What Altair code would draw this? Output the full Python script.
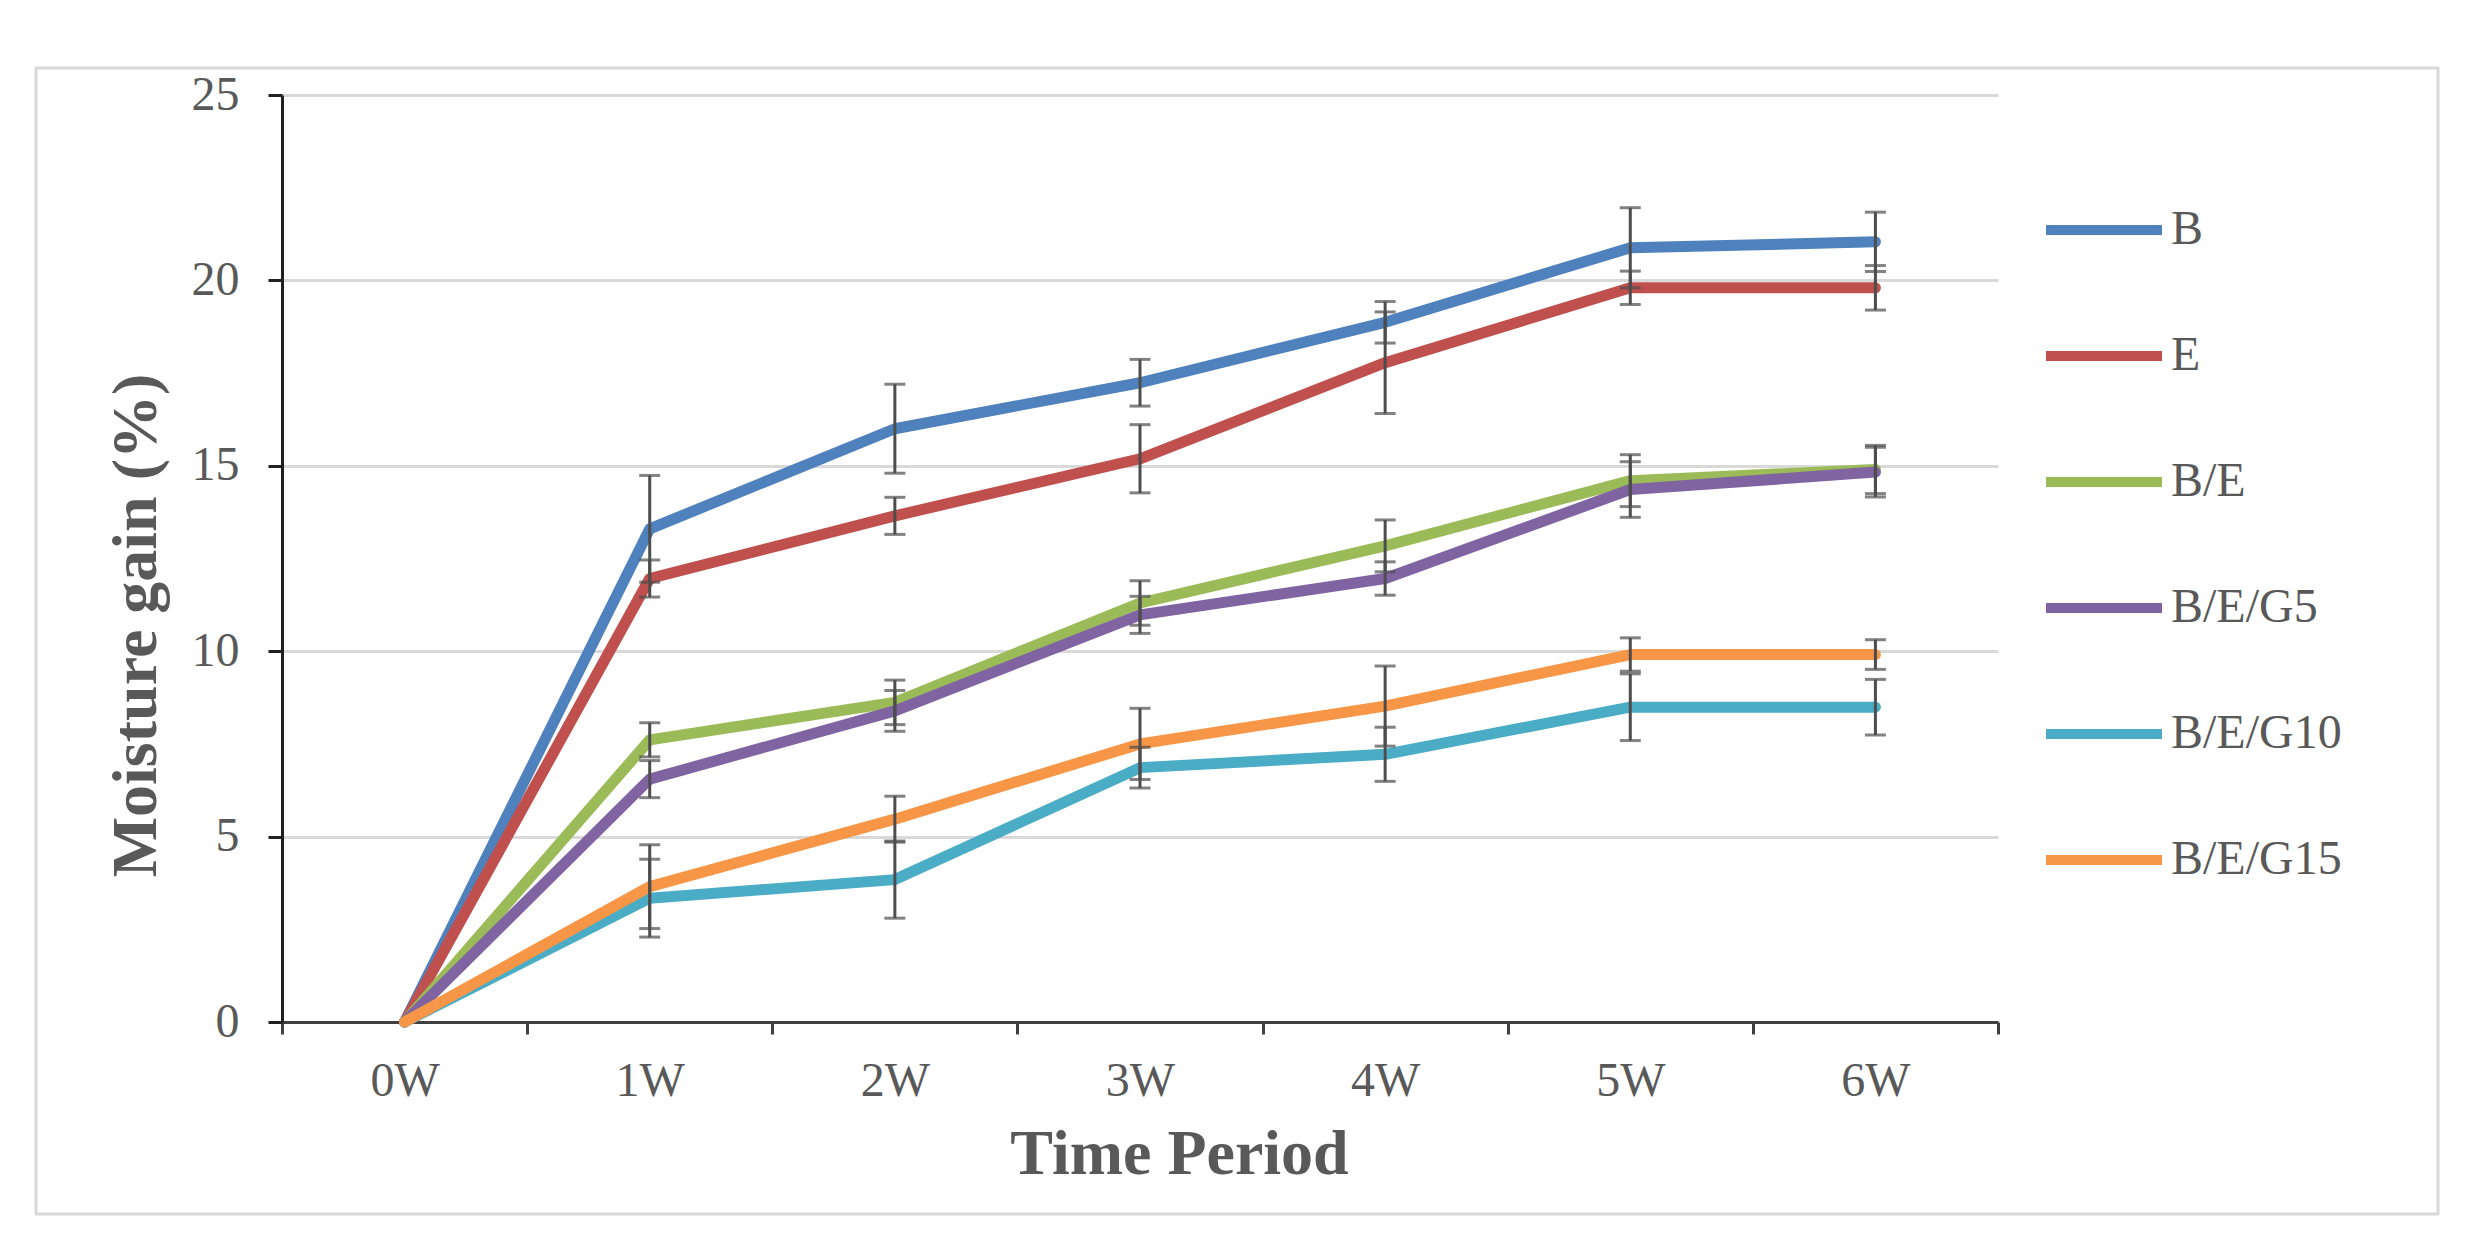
import altair as alt
import pandas as pd

weeks = ["0W", "1W", "2W", "3W", "4W", "5W", "6W"]
series = ["B", "E", "B/E", "B/E/G5", "B/E/G10", "B/E/G15"]
colors = ["#4F81BD", "#C0504D", "#9BBB59", "#8064A2", "#4BACC6", "#F79646"]

b_vals = [0, 13.3, 16.0, 17.24, 18.87, 20.88, 21.04]
e_vals = [0, 11.96, 13.65, 15.19, 17.78, 19.8, 19.8]
be_vals = [0, 7.61, 8.62, 11.3, 12.84, 14.6, 14.9]
g5_vals = [0, 6.55, 8.39, 10.98, 11.96, 14.36, 14.83]
g10_vals = [0, 3.34, 3.84, 6.86, 7.22, 8.49, 8.49]
g15_vals = [0, 3.65, 5.47, 7.5, 8.52, 9.91, 9.91]

b_err = [0, 1.44, 1.2, 0.63, 0.56, 1.08, 0.8]
e_err = [0, 0.5, 0.5, 0.92, 1.37, 0.45, 0.6]
be_err = [0, 0.46, 0.6, 0.6, 0.7, 0.7, 0.65]
g5_err = [0, 0.5, 0.55, 0.5, 0.45, 0.75, 0.67]
g10_err = [0, 1.05, 1.04, 0.55, 0.73, 0.9, 0.75]
g15_err = [0, 1.13, 0.62, 0.96, 1.08, 0.45, 0.4]

all_vals = [b_vals, e_vals, be_vals, g5_vals, g10_vals, g15_vals]
all_errs = [b_err, e_err, be_err, g5_err, g10_err, g15_err]

rows = []
for s, vals, errs in zip(series, all_vals, all_errs):
    for i, w in enumerate(weeks):
        rows.append({"series": s, "week": w, "pos": i + 0.5,
                     "value": vals[i], "err": errs[i],
                     "lo": vals[i] - errs[i], "hi": vals[i] + errs[i]})
df = pd.DataFrame(rows)

W, H = 1716, 927
FONT = "Liberation Serif"
TXT = "#595959"
Y_TITLE = "Moisture gain (%)"

label_arr = "[" + ",".join("'%s'" % w for w in weeks) + "]"
label_expr = "datum.value < %d ? %s[datum.value] : ''" % (len(weeks), label_arr)

x_enc = alt.X("pos:Q",
              scale=alt.Scale(domain=[0, len(weeks)], nice=False, zero=False),
              axis=alt.Axis(values=list(range(len(weeks) + 1)), labelExpr=label_expr,
                            labelOffset=W / len(weeks) / 2, labelFlush=False,
                            labelOverlap=False, grid=False,
                            tickSize=12, tickWidth=3, tickColor="#404040",
                            domainColor="#404040", domainWidth=3,
                            labelFont=FONT, labelFontSize=48, labelColor=TXT,
                            labelPadding=23,
                            title="Time Period", titleFont=FONT, titleFontSize=64,
                            titleFontWeight="bold", titleColor=TXT,
                            titleX=897, titleY=132, titleBaseline="middle",
                            titleAlign="center"))
y_axis = alt.Axis(values=[0, 5, 10, 15, 20, 25], grid=True, gridColor="#D9D9D9",
                  gridWidth=3, tickSize=14, tickWidth=3, tickColor="#202020",
                  domainColor="#202020", domainWidth=3, labelFlush=False,
                  labelFont=FONT, labelFontSize=48, labelColor=TXT, labelPadding=29,
                  title=Y_TITLE, titleFont=FONT, titleFontSize=64,
                  titleFontWeight="bold", titleColor=TXT,
                  titleX=-146, titleY=530, titleBaseline="middle", titleAlign="center",
                  titleAngle=270)
y_scale = alt.Scale(domain=[0, 25], nice=False)

color = alt.Color("series:N",
                  scale=alt.Scale(domain=series, range=colors),
                  legend=alt.Legend(title=None, orient="none", legendX=1759, legendY=72,
                                    symbolType="stroke", symbolSize=13456,
                                    symbolStrokeWidth=10, labelFont=FONT,
                                    labelFontSize=48, labelColor=TXT, labelOffset=4,
                                    rowPadding=39, padding=0, labelLimit=400))

frame = alt.Chart(pd.DataFrame({"f": [0]})).mark_rect(
    fillOpacity=0, stroke="#D9D9D9", strokeWidth=3
).encode(x=alt.value(-246), x2=alt.value(2156), y=alt.value(-27), y2=alt.value(1119))

lines = alt.Chart(df).mark_line(strokeWidth=11, strokeCap="round", strokeJoin="round").encode(
    x=x_enc,
    y=alt.Y("value:Q", scale=y_scale, axis=y_axis, title=Y_TITLE),
    color=color,
    detail="series:N",
)

bars = alt.Chart(df).transform_filter("datum.err > 0").mark_errorbar(
    ticks=True, size=21, thickness=3, color="#4d4d4d"
).encode(
    x=alt.X("pos:Q"),
    y=alt.Y("lo:Q", scale=y_scale, title=Y_TITLE),
    y2="hi:Q",
)

chart = alt.layer(frame, lines, bars).properties(
    width=W, height=H,
    padding={"left": 26, "top": 58, "right": 10, "bottom": 10},
    background="white",
).configure_view(stroke=None)

chart.save("out.html", embed_options={"renderer": "svg", "actions": False})
